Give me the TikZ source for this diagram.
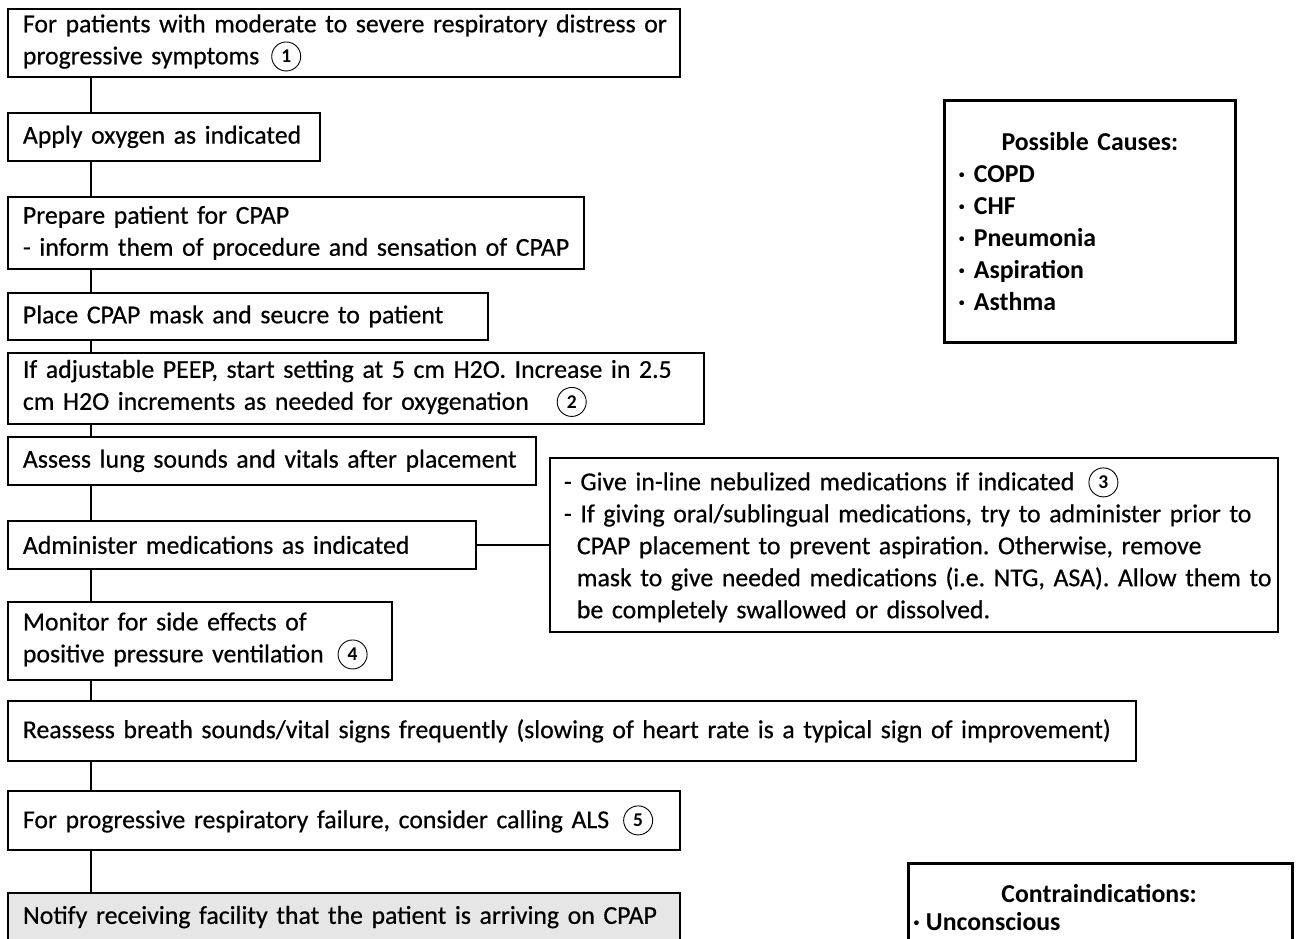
\documentclass[tikz,border=0pt]{standalone}
\usepackage{fontspec}
\setmainfont{Carlito}[FakeBold=0.5, BoldFeatures={FakeBold=0}]
\frenchspacing
\definecolor{notegray}{HTML}{E6E6E6}
\newcommand\cnum[1]{\tikz[baseline={([yshift=-1.5pt]cn.base)}]\node[circle,draw,line width=0.9pt,inner sep=0pt,minimum size=29pt,font=\bfseries\fontsize{19.5}{19.5}\selectfont] (cn) {#1};}
\begin{document}
\begin{tikzpicture}[x=1pt,y=-1pt,
  every node/.style={font=\fontsize{25.8}{32}\selectfont, inner sep=0pt},
  box/.style={draw, line width=1.8pt, align=left, inner xsep=15pt, inner ysep=0pt, anchor=north west},
  notebox/.style={box, fill=notegray, line width=2.2pt},
  thickbox/.style={draw, line width=2.8pt, anchor=north west},
  conn/.style={line width=1.5pt}
]
\useasboundingbox (0,0) rectangle (1298,938);

% main flow
\node[box, text width=642pt, minimum height=68pt] (n1) at (7,8)
  {\mbox{For patients with moderate to severe respiratory distress or}\\\mbox{progressive symptoms\hspace{12pt}\cnum{1}}};
\node[box, text width=282pt, minimum height=48pt] (n2) at (7,112)
  {\mbox{Apply oxygen as indicated}};
\node[box, text width=546pt, minimum height=72pt] (n3) at (7,196)
  {\mbox{Prepare patient for CPAP}\\\mbox{- inform them of procedure and sensation of CPAP}};
\node[box, text width=450pt, minimum height=47pt] (n4) at (7,292)
  {\mbox{Place CPAP mask and seucre to patient}};
\node[box, text width=666pt, minimum height=71pt] (n5) at (7,352)
  {\mbox{If adjustable PEEP, start setting at 5 cm H2O. Increase in 2.5}\\\mbox{cm H2O increments as needed for oxygenation\hspace{28pt}\cnum{2}}};
\node[box, text width=498pt, minimum height=48pt] (n6) at (7,436)
  {\mbox{Assess lung sounds and vitals after placement}};
\node[box, text width=438pt, minimum height=48pt] (n7) at (7,520)
  {\mbox{Administer medications as indicated}};
\node[box, text width=354pt, minimum height=78pt] (n8) at (7,601)
  {\mbox{Monitor for side effects of}\\\mbox{positive pressure ventilation\hspace{14pt}\cnum{4}}};
\node[box, text width=1098pt, minimum height=60pt] (n9) at (7,700)
  {\mbox{Reassess breath sounds/vital signs frequently (slowing of heart rate is a typical sign of improvement)}};
\node[box, text width=642pt, minimum height=59pt] (n10) at (7,790)
  {\mbox{For progressive respiratory failure, consider calling ALS\hspace{14pt}\cnum{5}}};
\node[notebox, text width=642pt, minimum height=48pt] (n11) at (7,892)
  {\mbox{Notify receiving facility that the patient is arriving on CPAP}};

% side note
\node[box, inner xsep=14pt, text width=700pt, minimum height=174pt] (side) at (549,457)
  {\mbox{- Give in-line nebulized medications if indicated\hspace{14pt}\cnum{3}}\\
   \mbox{- If giving oral/sublingual medications, try to administer prior to}\\
   \mbox{\hspace{13pt}CPAP placement to prevent aspiration. Otherwise, remove}\\
   \mbox{\hspace{13pt}mask to give needed medications (i.e. NTG, ASA). Allow them to}\\
   \mbox{\hspace{13pt}be completely swallowed or dissolved.}};

% possible causes
\node[thickbox, align=left, inner xsep=14pt, text width=263pt, minimum height=242pt,
      font=\fontsize{25.8}{32}\selectfont\bfseries] (pc) at (943,99)
  {\makebox[263pt][c]{Possible Causes:}\\· COPD\\· CHF\\· Pneumonia\\· Aspiration\\· Asthma};

% contraindications
\node[thickbox, minimum width=384pt, minimum height=120pt] (contra) at (907,862) {};
\node[anchor=base, font=\fontsize{25.8}{32}\selectfont\bfseries] (ctitle) at (1099,902) {Contraindications:};
\node[anchor=base west, font=\fontsize{25.8}{32}\selectfont\bfseries] (citem) at (913,930) {· Unconscious};

% connectors
\foreach \a/\b in {n1/n2,n2/n3,n3/n4,n4/n5,n5/n6,n6/n7,n7/n8,n8/n9,n9/n10,n10/n11}
  \draw[conn] ([xshift=84pt]\a.south west) -- ([xshift=84pt]\b.north west);
\draw[conn] (n7.east) -- (side.west);
\end{tikzpicture}
\end{document}
